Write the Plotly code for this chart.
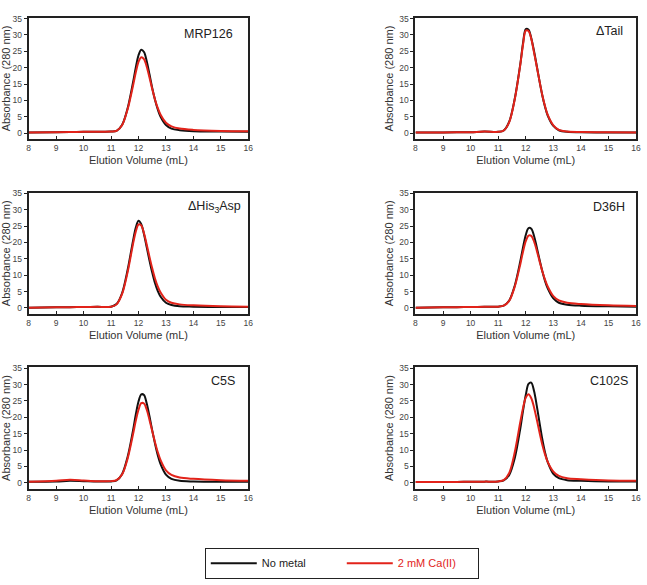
import plotly.graph_objects as go

# ---------------- data ----------------
elution_ml = [8, 9, 9.5, 10, 10.5, 11, 11.2, 11.4, 11.6, 11.8, 11.9, 12.0, 12.1, 12.2,
              12.3, 12.4, 12.5, 12.6, 12.7, 12.8, 13.0, 13.2, 13.5, 14, 15, 16]

panel_labels = ["MRP126", "ΔTail", "ΔHis<sub>3</sub>Asp", "D36H", "C5S", "C102S"]
series_names = ["No metal", "2 mM Ca(II)"]

mrp126_none = [0.2, 0.3, 0.35, 0.4, 0.45, 0.5, 0.7, 2.5, 7.5, 15.5, 20.0, 23.8, 25.5, 24.8,
               22.0, 18.0, 13.8, 10.2, 7.3, 5.1, 2.5, 1.4, 0.9, 0.6, 0.5, 0.4]
mrp126_ca = [0.2, 0.3, 0.35, 0.4, 0.45, 0.5, 0.7, 2.4, 7.2, 14.5, 18.5, 21.8, 23.2, 22.6,
             20.3, 17.0, 13.5, 10.3, 7.7, 5.7, 3.2, 2.1, 1.4, 1.0, 0.7, 0.6]

dtail_none = [0.2, 0.2, 0.25, 0.3, 0.5, 0.4, 0.8, 3.5, 10.5, 21.0, 27.5, 31.8, 31.6, 29.0,
              25.0, 20.5, 15.8, 11.5, 8.0, 5.3, 2.2, 0.9, 0.4, 0.3, 0.2, 0.2]
dtail_ca = [0.2, 0.2, 0.25, 0.3, 0.5, 0.4, 0.8, 3.4, 10.3, 20.8, 27.0, 31.3, 31.2, 28.8,
            24.6, 20.3, 15.8, 11.6, 8.2, 5.5, 2.4, 1.0, 0.5, 0.35, 0.25, 0.2]

dhis_none = [0.1, 0.2, 0.25, 0.3, 0.35, 0.4, 1.2, 4.5, 11.5, 20.5, 24.5, 26.6, 25.6, 22.5,
             18.5, 14.5, 10.8, 7.6, 5.2, 3.5, 1.6, 0.9, 0.5, 0.4, 0.3, 0.3]
dhis_ca = [0.1, 0.2, 0.25, 0.3, 0.35, 0.4, 1.1, 4.2, 10.8, 19.5, 23.3, 25.5, 25.2, 22.8,
           19.3, 15.6, 12.1, 9.0, 6.6, 4.8, 2.5, 1.6, 1.1, 0.8, 0.5, 0.4]

d36h_none = [0.1, 0.2, 0.25, 0.3, 0.35, 0.4, 0.7, 2.3, 6.8, 14.2, 18.5, 22.3, 24.4, 24.2,
             22.0, 18.5, 14.7, 11.2, 8.2, 5.9, 2.9, 1.6, 1.0, 0.7, 0.5, 0.4]
d36h_ca = [0.1, 0.2, 0.25, 0.3, 0.35, 0.4, 0.7, 2.2, 6.5, 13.3, 17.2, 20.4, 22.1, 22.0,
           20.3, 17.5, 14.3, 11.2, 8.6, 6.5, 3.6, 2.3, 1.6, 1.2, 0.8, 0.6]

c5s_none = [0.3, 0.4, 0.6, 0.5, 0.4, 0.4, 0.7, 2.6, 7.8, 16.0, 20.8, 24.8, 27.0, 26.8,
            24.2, 20.3, 16.0, 12.0, 8.5, 5.8, 2.5, 1.2, 0.6, 0.4, 0.3, 0.3]
c5s_ca = [0.3, 0.6, 0.9, 0.7, 0.5, 0.5, 0.8, 2.5, 7.3, 14.8, 18.9, 22.3, 24.3, 24.2,
          22.3, 19.2, 15.8, 12.4, 9.4, 7.0, 3.8, 2.4, 1.6, 1.2, 0.8, 0.6]

c102s_none = [0.2, 0.2, 0.25, 0.3, 0.35, 0.4, 0.7, 2.4, 7.5, 16.5, 22.0, 26.8, 30.2, 30.6,
              28.0, 23.5, 18.3, 13.3, 9.2, 6.2, 2.7, 1.4, 0.8, 0.6, 0.4, 0.4]
c102s_ca = [0.2, 0.2, 0.25, 0.3, 0.35, 0.4, 0.8, 3.0, 9.3, 18.5, 22.8, 26.0, 27.0, 25.8,
            23.0, 19.3, 15.3, 11.6, 8.6, 6.3, 3.4, 2.1, 1.4, 1.1, 0.7, 0.6]

x_ticks = [8, 9, 10, 11, 12, 13, 14, 15, 16]
y_ticks = [0, 5, 10, 15, 20, 25, 30, 35]

# ---------------- figure ----------------
W, H = 647, 585
FONT = "Arial, 'Liberation Sans', sans-serif"
BLACK = "#111111"
RED = "#e2231a"

panels = [
    (mrp126_none, mrp126_ca),
    (dtail_none, dtail_ca),
    (dhis_none, dhis_ca),
    (d36h_none, d36h_ca),
    (c5s_none, c5s_ca),
    (c102s_none, c102s_ca),
]

# pixel boxes of each plot area (left, right) and (top, bottom)
col_px = [(27, 249), (418, 641)]
row_px = [(14, 136), (190, 312), (366, 488)]
label_pos = [(0.941, 0.865), (0.951, 0.89), (0.978, 0.883),
             (0.958, 0.883), (0.95, 0.885), (0.973, 0.885)]

fig = go.Figure()
layout = {}
annotations = []
for i, (none_vals, ca_vals) in enumerate(panels):
    r, c = divmod(i, 2)
    n = i + 1
    xa = "x" if n == 1 else f"x{n}"
    ya = "y" if n == 1 else f"y{n}"
    fig.add_trace(go.Scatter(
        x=elution_ml, y=none_vals, mode="lines", name=series_names[0],
        line=dict(color=BLACK, width=2, shape="spline", smoothing=0.9),
        xaxis=xa, yaxis=ya, showlegend=(i == 0), legendrank=1))
    fig.add_trace(go.Scatter(
        x=elution_ml, y=ca_vals, mode="lines",
        name=f"<span style='color:{RED}'>{series_names[1]}</span>",
        line=dict(color=RED, width=2, shape="spline", smoothing=0.9),
        xaxis=xa, yaxis=ya, showlegend=(i == 0), legendrank=2))

    l, rr = col_px[c]
    t, b = row_px[r]
    axis_common = dict(showline=True, mirror=True, linewidth=2, linecolor="#222222",
                       showgrid=False, zeroline=False, ticklen=3, tickwidth=1,
                       tickcolor="#222222",
                       tickfont=dict(family=FONT, size=8.5, color="#444444"))
    layout[f"xaxis{n}"] = dict(
        domain=[l / W, rr / W], range=[8, 16], tickvals=x_ticks, ticks="inside",
        anchor=ya,
        title=dict(text="Elution Volume (mL)", standoff=4,
                   font=dict(family=FONT, size=11, color="#333333")),
        **axis_common)
    layout[f"yaxis{n}"] = dict(
        domain=[1 - b / H, 1 - t / H], range=[-1.8, 35.2], tickvals=y_ticks,
        ticks="outside", anchor=xa,
        title=dict(text="Absorbance (280 nm)", standoff=3,
                   font=dict(family=FONT, size=11, color="#333333")),
        **axis_common)
    lx, ly = label_pos[i]
    annotations.append(dict(
        text=panel_labels[i], xref=f"{xa} domain", yref=f"{ya} domain",
        x=lx, y=ly, xanchor="right", yanchor="middle", showarrow=False,
        font=dict(family=FONT, size=12.5, color="#222222")))

layout["xaxis"] = layout.pop("xaxis1")
layout["yaxis"] = layout.pop("yaxis1")

fig.update_layout(
    width=W, height=H,
    margin=dict(l=0, r=0, t=0, b=0),
    paper_bgcolor="white", plot_bgcolor="white",
    font=dict(family=FONT, size=11, color="#222222"),
    annotations=annotations,
    legend=dict(orientation="h", x=205 / W, y=1 - 563 / H, xanchor="left",
                yanchor="middle", bordercolor="#222222", borderwidth=1,
                bgcolor="white", font=dict(family=FONT, size=11, color="#222222"),
                entrywidth=75, itemwidth=46),
    **layout,
)

fig.write_html("out.html")
